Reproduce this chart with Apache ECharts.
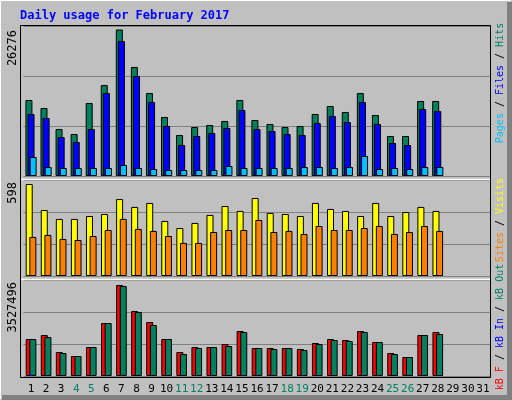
<!DOCTYPE html>
<html><head><meta charset="utf-8">
<script src="https://cdn.jsdelivr.net/npm/echarts@6/dist/echarts.min.js"></script>
<style>html,body{margin:0;padding:0;background:#c0c0c0}#c{width:512px;height:400px}</style>
</head><body><div id="c"></div>
<script>
const days = Array.from({length:31},(_,i)=>String(i+1));
const weekends = ['4','5','11','12','18','19','25','26'];
const hits = [13634,12199,8432,7535,13096,16325,26276,19555,14890,10585,7355,8791,9149,9867,13634,10046,9329,8791,8970,11123,12558,11482,14890,10943,7176,7176,13455,13455];
const files = [11123,10405,6997,6100,8432,14890,24219,17940,13276,8970,5561,7176,7714,8611,11840,8432,8073,7535,7355,9508,10764,9688,13276,9329,5920,5561,12020,11661];
const pages = [3409,1615,1435,1435,1435,1435,1974,1435,1256,1076,1076,1076,1076,1794,1435,1435,1435,1435,1615,1615,1435,1615,3588,1256,1435,1256,1615,1615];
const visits = [598,429,371,371,390,403,500,449,475,358,312,345,397,455,423,507,410,403,390,475,436,423,390,475,390,416,449,423];
const sites = [254,267,241,234,260,299,371,306,293,260,215,215,286,299,299,364,286,293,273,325,299,299,312,325,273,286,325,293];
const kbF = [1434000,1589000,930000,775000,1124000,2054000,3527496,2520000,2093000,1434000,930000,1124000,1124000,1240000,1744000,1085000,1085000,1085000,1047000,1279000,1434000,1395000,1744000,1318000,892000,736000,1589000,1706000];
const kbOut = [1434000,1512000,892000,775000,1124000,2054000,3489000,2481000,1977000,1434000,853000,1085000,1124000,1163000,1706000,1085000,1047000,1085000,1008000,1240000,1395000,1357000,1706000,1318000,853000,736000,1589000,1628000];
const kbIn = [60000,15000,15000,15000,15000,15000,15000,15000,15000,15000,15000,15000,15000,15000,15000,15000,15000,15000,15000,15000,15000,15000,15000,15000,15000,15000,15000,15000];

const mono = 'DejaVu Sans Mono';
const grids = [{left:23.5,width:467,top:26,height:150},{left:23.5,width:467,top:180,height:96},{left:23.5,width:467,top:280,height:96}];
const maxes = [26904,624,3721000];
const xAxis = grids.map((g,i)=>({type:'category',gridIndex:i,data:days,axisLine:{show:false},axisTick:{show:false},
  axisLabel:{show:i===2,fontFamily:mono,fontSize:11,margin:8,interval:0,color:(v)=>weekends.includes(v)?'#00805c':'#000'}}));
xAxis.push({type:'category',gridIndex:2,data:days,show:false});
const yAxis = grids.map((g,i)=>({type:'value',gridIndex:i,min:0,max:maxes[i],interval:maxes[i]/3,axisLabel:{show:false},axisLine:{show:false},axisTick:{show:false},
  splitLine:{show:true,lineStyle:{color:'#808080',width:1}}}));
const bs = (name,data,color,i,w,gap)=>({type:'bar',name,data,xAxisIndex:i,yAxisIndex:i,barWidth:w,barGap:gap,itemStyle:{color,borderColor:'#000',borderWidth:1},animation:false});
const series = [
  bs('Hits',hits,'#00805c',0,7,'-70%'),bs('Files',files,'#0000ff',0,7,'-70%'),bs('Pages',pages,'#00c0ff',0,7,'-70%'),
  bs('Visits',visits,'#ffff00',1,7,'-48%'),bs('Sites',sites,'#ff8000',1,7,'-48%'),
  bs('kB F',kbF,'#ff0000',2,7,'-48%'),bs('kB Out',kbOut,'#00805c',2,7,'-48%'),
];
series.push({type:'bar',name:'kB In',data:kbIn,xAxisIndex:3,yAxisIndex:2,barWidth:2,itemStyle:{color:'#0000ff'},animation:false,z:5});
const ylab=(t,x,y)=>({type:'text',x,y,rotation:Math.PI/2,style:{text:t,font:'12px '+mono,fill:'#000',align:'right',verticalAlign:'middle'}});
const rtxt=(parts,x,y)=>({type:'text',x,y,rotation:Math.PI/2,style:{text:parts.map(p=>'{'+p[1]+'|'+p[0]+'}').join(''),
  rich:{a:{fill:'#00c0ff'},b:{fill:'#0000ff'},c:{fill:'#00805c'},k:{fill:'#000'},y:{fill:'#ffff00'},o:{fill:'#ff8000'},r:{fill:'#ff0000'}},
  font:'10px '+mono,fontSize:10,fontFamily:mono,align:'center',verticalAlign:'middle'}});
const graphic=[
  {type:'line',shape:{x1:0.5,y1:0.5,x2:511,y2:0.5},style:{stroke:'#fff'}},
  {type:'line',shape:{x1:0.5,y1:0.5,x2:0.5,y2:399},style:{stroke:'#fff'}},
  {type:'rect',shape:{x:507,y:2,width:5,height:398},style:{fill:'#808080'}},
  {type:'rect',shape:{x:2,y:395,width:510,height:5},style:{fill:'#808080'}},
  {type:'text',x:20,y:16,style:{text:'Daily usage for February 2017',font:'bold 12px '+mono,fill:'#0000ff',verticalAlign:'middle'}},
  {type:'rect',z:10,shape:{x:20.5,y:25.5,width:470,height:352},style:{fill:'none',stroke:'#000',lineWidth:1}},
  {type:'line',z:10,shape:{x1:21,y1:179.5,x2:490,y2:179.5},style:{stroke:'#fff',lineWidth:1.5}},
  {type:'line',z:10,shape:{x1:21,y1:279.5,x2:490,y2:279.5},style:{stroke:'#fff',lineWidth:1.5}},
  ylab('26276',13,30),ylab('598',13,182),ylab('3527496',13,282),
  rtxt([['Pages','a'],[' / ','k'],['Files','b'],[' / ','k'],['Hits','c']],500,83),
  rtxt([['Sites','o'],[' / ','k'],['Visits','y']],500,220),
  rtxt([['kB F','r'],[' / ','k'],['kB In','b'],[' / ','k'],['kB Out','c']],500,327)
];
const chart=echarts.init(document.getElementById('c'),null,{renderer:'canvas'});
chart.setOption({backgroundColor:'#c0c0c0',animation:false,grid:grids,xAxis,yAxis,series,graphic});
</script></body></html>
